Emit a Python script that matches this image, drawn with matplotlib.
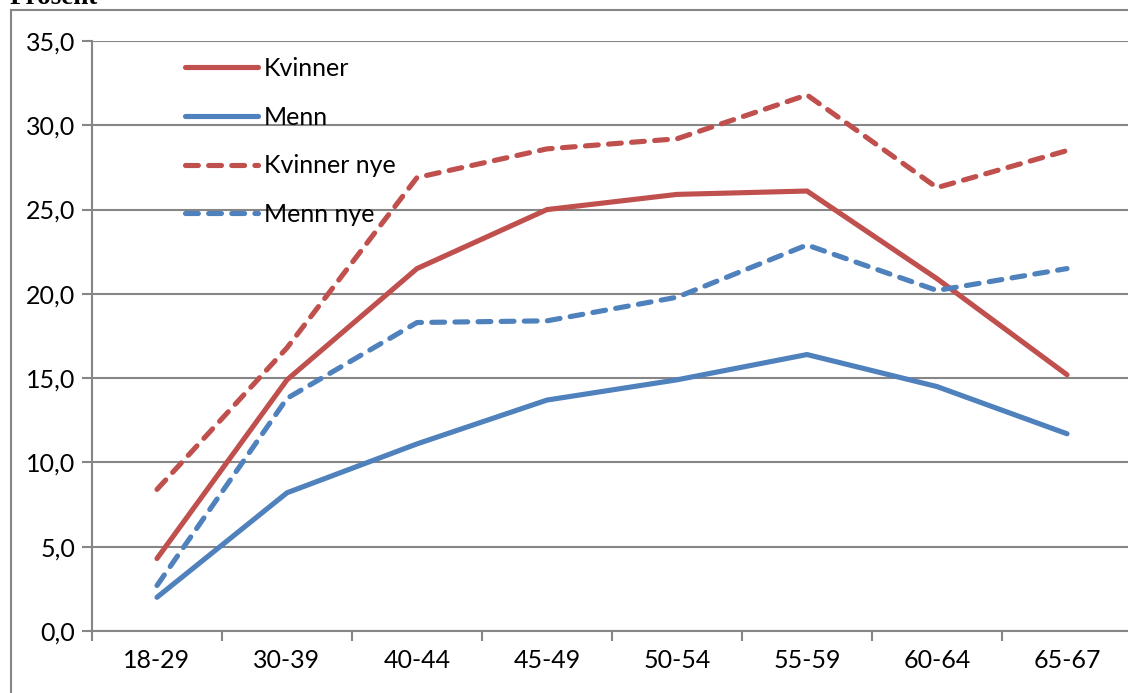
import matplotlib
matplotlib.use("Agg")
import matplotlib.pyplot as plt
from matplotlib.patches import Rectangle

categories = ["18-29", "30-39", "40-44", "45-49", "50-54", "55-59", "60-64", "65-67"]
kvinner = [4.3, 14.9, 21.5, 25.0, 25.9, 26.1, 20.9, 15.2]
menn = [2.0, 8.2, 11.1, 13.7, 14.9, 16.4, 14.5, 11.7]
kvinner_nye = [8.4, 16.8, 26.9, 28.6, 29.2, 31.8, 26.3, 28.5]
menn_nye = [2.7, 13.8, 18.3, 18.4, 19.8, 22.9, 20.2, 21.5]
yticks = [0, 5, 10, 15, 20, 25, 30, 35]

RED = "#C0504D"
BLUE = "#4F81BD"
GRID = "#868686"

plt.rcParams['font.family'] = ['Lato', 'DejaVu Sans']

W, H = 1128, 693
fig = plt.figure(figsize=(W / 100, H / 100), dpi=100)
# axes: left x=92, right x=1132, top y=41, bottom y=631
ax = fig.add_axes([92 / W, 1 - 631 / H, (1132 - 92) / W, (631 - 41) / H])

x = list(range(len(categories)))
lw = 3.7
dash = (2.5, 2.0)
ax.plot(x, kvinner, color=RED, lw=lw, solid_capstyle='round', solid_joinstyle='round', label="Kvinner", zorder=3)
ax.plot(x, menn, color=BLUE, lw=lw, solid_capstyle='round', solid_joinstyle='round', label="Menn", zorder=3)
ax.plot(x, kvinner_nye, color=RED, lw=lw, dashes=dash, dash_capstyle='round', dash_joinstyle='round', label="Kvinner nye", zorder=3)
ax.plot(x, menn_nye, color=BLUE, lw=lw, dashes=dash, dash_capstyle='round', dash_joinstyle='round', label="Menn nye", zorder=3)

ax.set_xlim(-0.5, len(categories) - 0.5)
ax.set_ylim(0, 35)
ax.set_yticks(yticks)
ax.set_yticklabels([f"{v:.1f}".replace(".", ",") for v in yticks])
ax.set_xticks([i - 0.5 for i in range(len(categories) + 1)])
ax.set_xticklabels([])
ax.set_xticks(x, minor=True)
ax.set_xticklabels(categories, minor=True)
ax.tick_params(axis='x', which='minor', length=0, pad=13, labelsize=18)
ax.tick_params(axis='x', which='major', length=7, color=GRID, width=1.5, direction='out')
ax.tick_params(axis='y', length=7, color=GRID, width=1.5, direction='out', labelsize=18, pad=5)
ax.yaxis.grid(True, color=GRID, lw=1.5)
ax.set_axisbelow(True)
for s in ['top', 'right']:
    ax.spines[s].set_visible(False)
for s in ['left', 'bottom']:
    ax.spines[s].set_color(GRID)
    ax.spines[s].set_linewidth(1.5)

leg = ax.legend(loc='upper left', bbox_to_anchor=(83 / 1040, 0.99), frameon=False,
                fontsize=18, handlelength=2.9, handletextpad=0.25, labelspacing=1.03,
                borderaxespad=0)

# outer frame
fig.patches.append(Rectangle((10.5 / W, -0.1), 1.2, 1 - 10.5 / H + 0.1, transform=fig.transFigure,
                             fill=False, edgecolor=GRID, lw=1.5))
fig.text(10 / W, 1 - 4 / H, "Prosent", family=['Liberation Serif'], weight='bold', fontsize=19.5,
         ha='left', va='baseline')

fig.savefig("out.png", dpi=100)
